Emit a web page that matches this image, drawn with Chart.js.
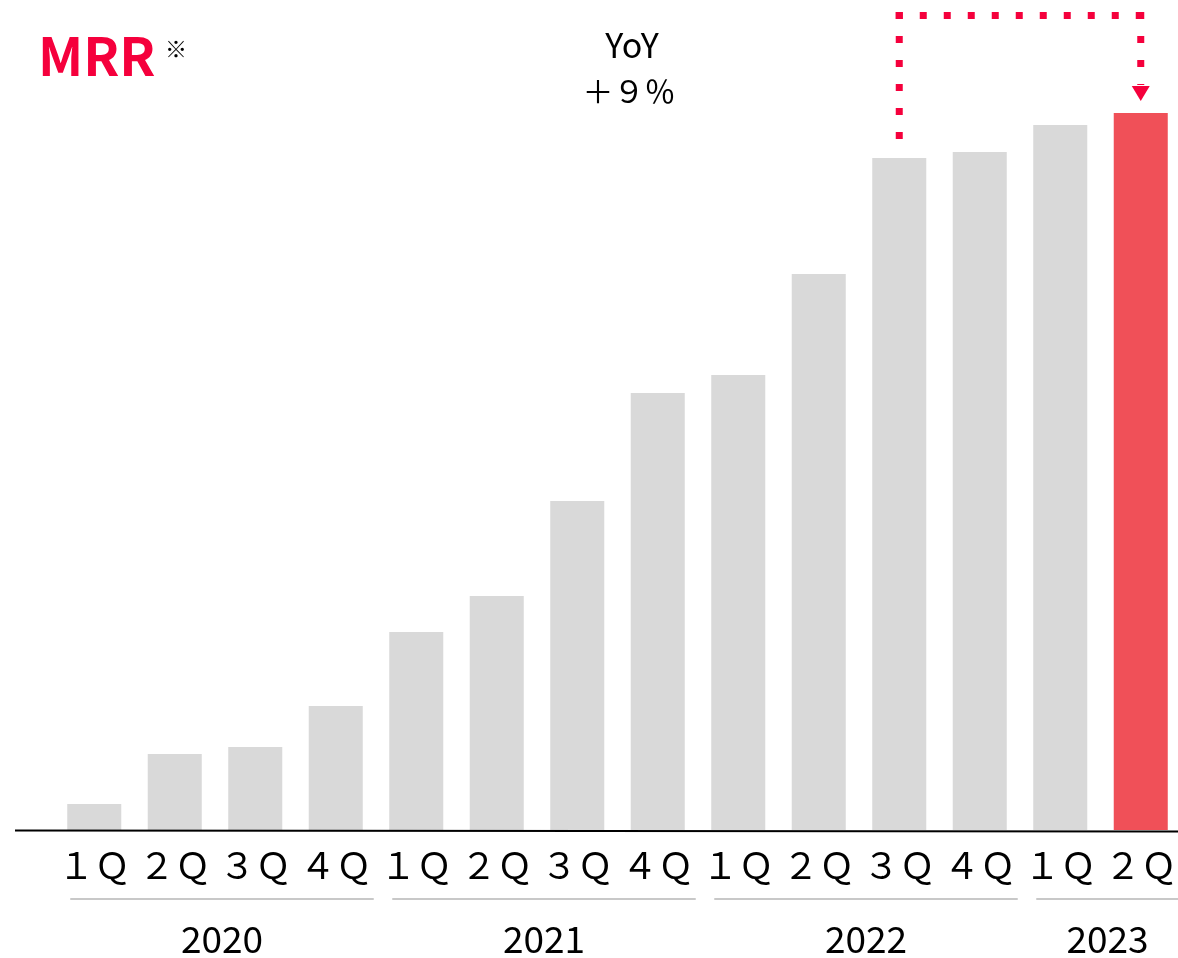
<!DOCTYPE html>
<html><head><meta charset="utf-8">
<script src="https://cdn.jsdelivr.net/npm/chart.js@4"></script>
<style>html,body{margin:0;padding:0;background:#fff;overflow:hidden}#wrap{width:1201px;height:958px;position:relative}canvas{display:block}</style>
</head><body><div id="wrap"><canvas id="c" width="1201" height="958"></canvas></div>
<script>
// ---- data ----
const quarters = ['１Ｑ','２Ｑ','３Ｑ','４Ｑ','１Ｑ','２Ｑ','３Ｑ','４Ｑ','１Ｑ','２Ｑ','３Ｑ','４Ｑ','１Ｑ','２Ｑ'];
const years = ['2020','2021','2022','2023'];
const yearFirstIndex = [0, 4, 8, 12];
const yearLastIndex = [3, 7, 11, 13];
const mrr = [26, 76, 83, 124, 198, 234, 329, 437, 455, 556, 672, 678, 705, 717];
const titleText = 'MRR';
const noteMark = '※';
const yoyLabel = 'YoY';
const yoyValue = '＋９％';
const yoyFromIndex = 10;
const yoyToIndex = 13;

// ---- styles ----
const FONT = '"Noto Sans CJK JP", "Noto Sans", sans-serif';
const RED = '#F5003C';
const GREY = '#D9D9D9';
const HIGHLIGHT = '#F05058';
const barColors = mrr.map((v, i) => i === mrr.length - 1 ? HIGHLIGHT : GREY);
const VIEW_W = 1178;

const overlay = {
  id: 'overlay',
  afterDraw(chart) {
    const ctx = chart.ctx;
    const xs = chart.scales.x, ys = chart.scales.y;
    const ca = chart.chartArea;
    ctx.save();
    // baseline
    ctx.strokeStyle = '#000';
    ctx.lineWidth = 2;
    ctx.beginPath();
    ctx.moveTo(15, ca.bottom + 0.5);
    ctx.lineTo(VIEW_W, ca.bottom + 1.5);
    ctx.stroke();
    // year groups
    ctx.font = '37px ' + FONT;
    ctx.fillStyle = '#000';
    ctx.textAlign = 'center';
    ctx.textBaseline = 'alphabetic';
    years.forEach((y, k) => {
      const x0 = xs.getPixelForValue(yearFirstIndex[k]);
      const x1 = xs.getPixelForValue(yearLastIndex[k]);
      ctx.strokeStyle = '#C8C8C8';
      ctx.lineWidth = 2;
      ctx.beginPath();
      ctx.moveTo(x0 - 24, 899);
      ctx.lineTo(Math.min(VIEW_W, x1 + 38), 899);
      ctx.stroke();
      ctx.fillText(y, (x0 + x1) / 2 + 7, 953);
    });
    // title
    ctx.textAlign = 'left';
    ctx.fillStyle = RED;
    ctx.font = 'bold 53px ' + FONT;
    ctx.fillText(titleText, 38, 76);
    ctx.fillStyle = '#000';
    ctx.font = '22px ' + FONT;
    ctx.fillText(noteMark, 165, 57);
    // YoY
    ctx.textAlign = 'center';
    ctx.font = '34px ' + FONT;
    ctx.fillText(yoyLabel, 632, 58);
    ctx.font = '31px ' + FONT;
    ctx.fillText(yoyValue, 629, 103);
    // dotted connector
    const xa = xs.getPixelForValue(yoyFromIndex);
    const xb = xs.getPixelForValue(yoyToIndex);
    const ya = ys.getPixelForValue(mrr[yoyFromIndex]);
    const yb = ys.getPixelForValue(mrr[yoyToIndex]);
    const yTop = 12;
    ctx.strokeStyle = RED;
    ctx.fillStyle = RED;
    ctx.lineWidth = 7;
    ctx.setLineDash([7, 17]);
    ctx.beginPath(); ctx.moveTo(xa, yTop); ctx.lineTo(xa, ya - 19); ctx.stroke();
    ctx.beginPath(); ctx.moveTo(xa - 3.5, yTop + 3.5); ctx.lineTo(xb + 3.5, yTop + 3.5); ctx.stroke();
    ctx.beginPath(); ctx.moveTo(xb, yTop); ctx.lineTo(xb, yb - 28); ctx.stroke();
    ctx.setLineDash([]);
    ctx.beginPath();
    ctx.moveTo(xb - 9, yb - 27);
    ctx.lineTo(xb + 9, yb - 27);
    ctx.lineTo(xb, yb - 12);
    ctx.closePath();
    ctx.fill();
    ctx.restore();
  }
};

new Chart(document.getElementById('c'), {
  type: 'bar',
  data: {
    labels: quarters,
    datasets: [{
      data: mrr,
      backgroundColor: barColors,
      borderWidth: 0,
      barPercentage: 0.671,
      categoryPercentage: 1
    }]
  },
  options: {
    responsive: false,
    animation: false,
    devicePixelRatio: 1,
    layout: { padding: { left: 54, right: 20, top: 0, bottom: 56.8 } },
    plugins: { legend: { display: false }, tooltip: { enabled: false }, title: { display: false } },
    scales: {
      x: {
        offset: true,
        grid: { display: false, drawTicks: false },
        border: { display: false },
        ticks: {
          font: { family: FONT, size: 36, lineHeight: 1.2 },
          color: '#000',
          padding: 14,
          maxRotation: 0,
          autoSkip: false
        }
      },
      y: { display: false, min: 0, max: 830 }
    }
  },
  plugins: [overlay]
});
</script></body></html>
